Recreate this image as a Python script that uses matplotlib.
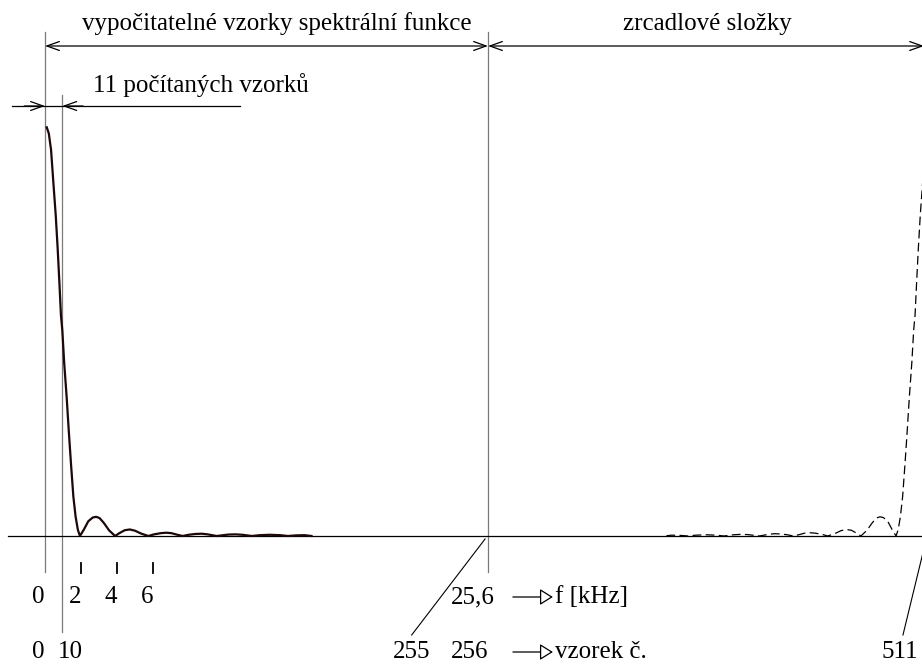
import matplotlib
matplotlib.use("Agg")
import matplotlib.pyplot as plt

# ---- spectrum magnitude (sample index, normalised) ----
samples = [1, 2.2, 3.5, 4.8, 6.2, 7.3, 8.3, 9.2, 10.0, 11.1, 12.5, 13.7, 15.0, 16.4,
           17.7, 19.0, 20.2,
           22.5, 25, 27.5, 29.5, 31.5, 34, 37, 40.5,
           43, 46, 49, 52, 55.5, 59.7,
           63, 67, 70, 73, 76.5, 79.6,
           83, 87, 90.6, 94, 99.2,
           103, 106, 110, 114, 119.6,
           124, 130, 136, 140.4,
           145, 150, 154]
magnitude = [1.0, 0.985, 0.945, 0.867, 0.785, 0.705, 0.622, 0.541, 0.504, 0.423, 0.341,
             0.26, 0.178, 0.096, 0.047, 0.015, 0.0,
             0.016, 0.036, 0.045, 0.047, 0.044, 0.032, 0.014, 0.0,
             0.007, 0.014, 0.016, 0.013, 0.006, 0.0,
             0.004, 0.007, 0.008, 0.007, 0.003, 0.0,
             0.003, 0.005, 0.0056, 0.004, 0.0,
             0.002, 0.0035, 0.004, 0.003, 0.0,
             0.002, 0.003, 0.002, 0.0,
             0.0015, 0.002, 0.0]

N = 512            # DFT length, mirror image sits at N - k
half = 256
computed = 10

freq_labels = ["0", "2", "4", "6"]
freq_label_pos = [-4, 17.3, 38, 58.8]
freq_tick_pos = [20.8, 41.6, 62.4]
sample_labels = ["0", "10", "255", "256", "511"]
sample_label_pos = [-4, 14.4, 211.6, 245.6, 494]

title_left = "vypočitatelné vzorky spektrální funkce"
title_right = "zrcadlové složky"
title_small = "11 počítaných vzorků"

plt.rcParams["font.family"] = ["Liberation Serif", "DejaVu Serif"]
FS = 18


def py(p):
    # vertical layout position given in picture pixels -> amplitude units
    return (536 - p) / 408.7


fig = plt.figure(figsize=(9.22, 6.66), dpi=100)
ax = fig.add_axes([0, 0, 1, 1])
ax.set_xlim(-26.0, 506.8)
ax.set_ylim(py(666), py(0))
ax.axis("off")

grey = "#7a7a7a"

# guide lines
ax.plot([0, 0], [py(32), py(572)], color=grey, lw=0.9)
ax.plot([computed, computed], [py(95), py(632)], color=grey, lw=0.9)
ax.plot([half, half], [py(32), py(572)], color=grey, lw=0.9)
ax.plot([-21.4, 510], [0, 0], color="black", lw=0.9)

# spectrum and its mirror
ax.plot(samples, magnitude, color="#1c0808", lw=1.6, solid_joinstyle="round")
mirror_x = [N - s for s in samples]
ax.plot(mirror_x, magnitude, color="black", lw=0.9, dashes=(7, 3.5))

# dimension arrows
arr = dict(arrowstyle="<->, head_length=0.45, head_width=0.16", color="black",
           lw=0.9, shrinkA=0, shrinkB=0, mutation_scale=20)
ax.annotate("", xy=(0, py(46)), xytext=(half, py(46)), arrowprops=arr)
ax.annotate("", xy=(half, py(46)), xytext=(508, py(46)), arrowprops=arr)

one = dict(arrowstyle="->, head_length=0.45, head_width=0.16", color="black",
           lw=0.9, shrinkA=0, shrinkB=0, mutation_scale=20)
ax.plot([-19.1, 112.7], [py(106), py(106)], color="black", lw=0.9)
ax.annotate("", xy=(0, py(106)), xytext=(-12, py(106)), arrowprops=one)
ax.annotate("", xy=(computed, py(106)), xytext=(22, py(106)), arrowprops=one)

ax.text(133.8, py(24), title_left, ha="center", va="center", fontsize=FS)
ax.text(382.5, py(24), title_right, ha="center", va="center", fontsize=FS)
ax.text(90.1, py(85), title_small, ha="center", va="center", fontsize=FS)

# frequency axis
for x in freq_tick_pos:
    ax.plot([x, x], [py(563), py(573)], color="black", lw=1.3)
for lab, x in zip(freq_labels, freq_label_pos):
    ax.text(x, py(597), lab, ha="center", va="center", fontsize=FS)
ax.text(247.3, py(597), "25,6", ha="center", va="center", fontsize=FS)

# sample axis
for lab, x in zip(sample_labels, sample_label_pos):
    ax.text(x, py(652), lab, ha="center", va="center", fontsize=FS)

# leader lines to 256 and 512
ax.plot([211.9, 254.3], [py(635), py(539)], color="black", lw=0.8)
ax.plot([495.8, 509.7], [py(635), 0], color="black", lw=0.8)

# open-head arrows
head = dict(arrowstyle="-|>, head_length=0.4, head_width=0.25", fc="white",
            ec="black", lw=0.9, shrinkA=0, shrinkB=0, mutation_scale=20)
for row, lab in [(597, "f [kHz]"), (652, "vzorek č.")]:
    ax.annotate("", xy=(293.5, py(row)), xytext=(270.4, py(row)), arrowprops=head)
    ax.text(294.8, py(row), lab, ha="left", va="center", fontsize=FS)

fig.savefig("out.png", dpi=100)
